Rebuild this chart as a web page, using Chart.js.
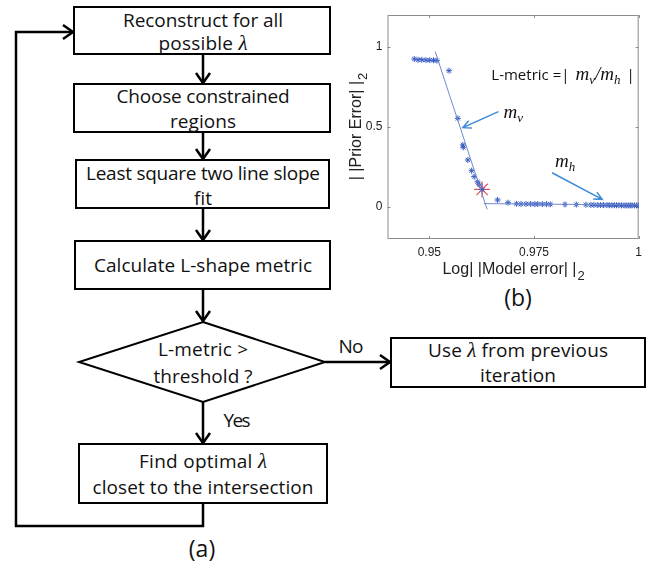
<!DOCTYPE html>
<html>
<head>
<meta charset="utf-8">
<script src="https://cdn.jsdelivr.net/npm/chart.js@4.4.0/dist/chart.umd.min.js"></script>
<style>
html, body { margin: 0; padding: 0; background: #fff; }
#wrap { position: relative; width: 648px; height: 567px; overflow: hidden; }
#flow { position: absolute; left: 0; top: 0; }
#lcurve { position: absolute; left: 343px; top: 0; }
</style>
</head>
<body>
<div id="wrap">
	<svg id="flow" width="648" height="567" xmlns="http://www.w3.org/2000/svg"></svg>
	<canvas id="lcurve" width="305" height="282"></canvas>
</div>
<script>
// ---- panel (b) data ----
const errX = [0.9464, 0.9473, 0.9482, 0.9492, 0.9501, 0.9510, 0.9518,
	0.9547, 0.9568, 0.9580, 0.9581, 0.9592, 0.9601, 0.9607, 0.9615, 0.9620, 0.9626,
	0.9663, 0.9688,
	0.9708, 0.9719, 0.9731, 0.9742, 0.9752, 0.9759, 0.9770, 0.9780, 0.9789,
	0.9824, 0.9851, 0.9874,
	0.9886, 0.9893, 0.9901, 0.9909, 0.9916, 0.9924, 0.9930, 0.9936, 0.9942, 0.9947,
	0.9953, 0.9959, 0.9965, 0.9970, 0.9975, 0.9980, 0.9984, 0.9990, 0.9995, 0.9999];
const errY = [0.925, 0.920, 0.920, 0.918, 0.918, 0.917, 0.915,
	0.852, 0.554, 0.388, 0.373, 0.294, 0.227, 0.190, 0.158, 0.138, 0.110,
	0.044, 0.027,
	0.020, 0.019, 0.019, 0.019, 0.018, 0.018, 0.018, 0.018, 0.017,
	0.016, 0.015, 0.014,
	0.013, 0.013, 0.012, 0.012, 0.012, 0.012, 0.011, 0.011, 0.011, 0.011,
	0.011, 0.010, 0.010, 0.010, 0.010, 0.010, 0.010, 0.010, 0.010, 0.010];

// two fitted lines (m_v steep, m_h flat)
const fitVx = [0.9514, 0.9638];
const fitVy = [0.971, -0.015];
const fitHx = [0.9630, 1.0];
const fitHy = [0.021, 0.013];

// chosen lambda (red star)
const cornerX = [0.9626];
const cornerY = [0.110];

const xTicks = [0.95, 0.975, 1];
const xTickLabels = ['0.95', '0.975', '1'];
const yTicks = [0, 0.5, 1];
const yTickLabels = ['0', '0.5', '1'];

const xTitle = 'Log| |Model error| |';
const yTitle = '| |Prior Error| |';
const normSub = '2';

// annotation anchors in data units
const arrowV = { from: [0.9665, 0.596], to: [0.9580, 0.496] };
const arrowH = { from: [0.9793, 0.214], to: [0.9913, 0.048] };
const labelV = [0.9677, 0.554];
const labelH = [0.9800, 0.252];
const lmetricAt = [0.9648, 0.794];

const toPts = (xs, ys) => xs.map((x, i) => ({ x: x, y: ys[i] }));

// ---- flowchart (a) ----
const NS = 'http://www.w3.org/2000/svg';
const svg = document.getElementById('flow');
const flowFont = '"Open Sans", Lato, sans-serif';

function el(tag, attrs, parent) {
	let e = document.createElementNS(NS, tag);
	for (let k in attrs) e.setAttribute(k, attrs[k]);
	(parent || svg).appendChild(e);
	return e;
}

function box(x, y, w, h) {
	el('rect', { x: x, y: y, width: w, height: h, fill: 'none', stroke: '#000', 'stroke-width': 2 });
}

// line of text, λ written as an italic serif glyph
function line(txt, cx, base, len, size) {
	let t = el('text', {
		x: cx, y: base, 'text-anchor': 'middle', 'font-family': flowFont,
		'font-size': size || 19, fill: '#111'
	});
	if (len) t.setAttribute('textLength', len);
	let parts = txt.split('λ');
	parts.forEach((p, i) => {
		if (p) { let s = el('tspan', {}, t); s.textContent = p; }
		if (i < parts.length - 1) {
			let s = el('tspan', { 'font-family': '"Liberation Serif", serif', 'font-style': 'italic', 'font-size': 21 }, t);
			s.textContent = 'λ';
		}
	});
}

function head(x, y, dir) {
	let L = 10, W = 7, pts;
	if (dir == 'down') pts = [[x - W, y - L], [x, y], [x + W, y - L]];
	else pts = [[x - L, y - W], [x, y], [x - L, y + W]];
	el('polyline', { points: pts.map(p => p.join(',')).join(' '), fill: 'none', stroke: '#000', 'stroke-width': 2.5 });
}

function arrow(x1, y1, x2, y2, dir) {
	el('line', { x1: x1, y1: y1, x2: x2, y2: y2, stroke: '#000', 'stroke-width': 2.5 });
	head(x2, y2, dir);
}

const cx = 203;
box(74, 7, 256, 47);
line('Reconstruct for all', cx, 27, 160);
line('possible λ', cx, 50, 89);
arrow(cx, 54, cx, 83, 'down');

box(74, 84, 256, 48);
line('Choose constrained', cx, 103, 173);
line('regions', cx, 128, 66);
arrow(cx, 132, cx, 159, 'down');

box(76, 160, 253, 48);
line('Least square two line slope', cx, 180, 234);
line('fit', cx, 205);
arrow(cx, 208, cx, 240, 'down');

box(75, 241, 255, 48);
line('Calculate L-shape metric', cx, 272, 218);
arrow(cx, 289, cx, 321, 'down');

el('polygon', { points: '203,322 325,362 203,402 79,362', fill: 'none', stroke: '#000', 'stroke-width': 2 });
line('L-metric >', cx, 356, 90);
line('threshold ?', cx, 383, 99);

arrow(325, 362, 390, 362, 'right');
line('No', 351, 353, 25);
box(391, 338, 254, 49);
line('Use λ from previous', 518, 357, 180);
line('iteration', 518, 382, 76);

arrow(cx, 402, cx, 443, 'down');
line('Yes', 237, 427, 27);
box(79, 444, 248, 59);
line('Find optimal λ', cx, 468, 128);
line('closet to the intersection', cx, 494, 221);

el('polyline', { points: '203,503 203,526 16,526 16,32 73,32', fill: 'none', stroke: '#000', 'stroke-width': 2.5 });
head(73, 32, 'right');

line('(a)', 202, 557, null, 23);
line('(b)', 518, 306, null, 23);

// ---- panel (b) chart ----
const frameBox = {
	id: 'frameBox',
	beforeDatasetsDraw(chart) {
		const { ctx, chartArea: a, scales: { x, y } } = chart;
		ctx.save();
		ctx.strokeStyle = '#8c8c8c';
		ctx.lineWidth = 1;
		ctx.strokeRect(a.left + 0.5, a.top + 0.5, a.right - a.left - 1, a.bottom - a.top - 1);
		ctx.beginPath();
		xTicks.forEach(v => {
			let px = Math.round(x.getPixelForValue(v)) + 0.5;
			ctx.moveTo(px, a.bottom); ctx.lineTo(px, a.bottom - 3);
			ctx.moveTo(px, a.top); ctx.lineTo(px, a.top + 3);
		});
		yTicks.forEach(v => {
			let py = Math.round(y.getPixelForValue(v)) + 0.5;
			ctx.moveTo(a.left, py); ctx.lineTo(a.left + 3, py);
			ctx.moveTo(a.right, py); ctx.lineTo(a.right - 3, py);
		});
		ctx.stroke();
		ctx.restore();
	}
};

// axis titles with a real subscript 2
const axisTitles = {
	id: 'axisTitles',
	afterDraw(chart) {
		const { ctx, chartArea: a } = chart;
		const big = '16px "Liberation Sans", Arial, sans-serif';
		const small = '13px "Liberation Sans", Arial, sans-serif';
		ctx.save();
		ctx.fillStyle = '#222';
		ctx.textBaseline = 'alphabetic';
		ctx.textAlign = 'left';

		ctx.font = big;
		let w1 = ctx.measureText(xTitle).width;
		ctx.font = small;
		let w2 = ctx.measureText(normSub).width;
		let sx = (a.left + a.right) / 2 - (w1 + w2) / 2;
		let by = a.bottom + 35;
		ctx.font = big;
		ctx.fillText(xTitle, sx, by);
		ctx.font = small;
		ctx.fillText(normSub, sx + w1 + 1, by + 6);

		ctx.translate(a.left - 27, (a.top + a.bottom) / 2);
		ctx.rotate(-Math.PI / 2);
		ctx.font = big;
		w1 = ctx.measureText(yTitle).width;
		sx = -(w1 + w2) / 2;
		ctx.fillText(yTitle, sx, 0);
		ctx.font = small;
		ctx.fillText(normSub, sx + w1 + 1, 6);
		ctx.restore();
	}
};

function drawArrow(ctx, p, q) {
	let ang = Math.atan2(q[1] - p[1], q[0] - p[0]);
	ctx.beginPath();
	ctx.moveTo(p[0], p[1]);
	ctx.lineTo(q[0], q[1]);
	ctx.moveTo(q[0] - 9 * Math.cos(ang - 0.45), q[1] - 9 * Math.sin(ang - 0.45));
	ctx.lineTo(q[0], q[1]);
	ctx.lineTo(q[0] - 9 * Math.cos(ang + 0.45), q[1] - 9 * Math.sin(ang + 0.45));
	ctx.stroke();
}

// italic m with a subscript, returns the new x
function mathM(ctx, x, y, sub) {
	ctx.font = 'italic 19px "Liberation Serif", serif';
	ctx.fillText('m', x, y);
	x += ctx.measureText('m').width;
	ctx.font = 'italic 13px "Liberation Serif", serif';
	ctx.fillText(sub, x, y + 4);
	return x + ctx.measureText(sub).width;
}

const notes = {
	id: 'notes',
	afterDatasetsDraw(chart) {
		const { ctx, scales: { x, y } } = chart;
		const P = p => [x.getPixelForValue(p[0]), y.getPixelForValue(p[1])];
		ctx.save();
		ctx.strokeStyle = '#3d8ad6';
		ctx.lineWidth = 1.5;
		drawArrow(ctx, P(arrowV.from), P(arrowV.to));
		drawArrow(ctx, P(arrowH.from), P(arrowH.to));

		ctx.fillStyle = '#111';
		ctx.textBaseline = 'alphabetic';
		ctx.textAlign = 'left';
		let a = P(labelV);
		mathM(ctx, a[0], a[1], 'v');
		a = P(labelH);
		mathM(ctx, a[0], a[1], 'h');

		let [tx, ty] = P(lmetricAt);
		ctx.font = '15px "Open Sans", sans-serif';
		ctx.fillText('L-metric =|', tx, ty);
		tx += ctx.measureText('L-metric =|').width + 6;
		tx = mathM(ctx, tx, ty, 'v');
		ctx.font = 'italic 19px "Liberation Serif", serif';
		ctx.fillText('/', tx, ty);
		tx += ctx.measureText('/').width;
		tx = mathM(ctx, tx, ty, 'h');
		ctx.font = '15px "Open Sans", sans-serif';
		ctx.fillText('|', tx + 6, ty);
		ctx.restore();
	}
};

const tickFont = { family: '"Liberation Sans", Arial, sans-serif', size: 12 };

let ctx = document.getElementById('lcurve').getContext('2d');
let lChart = new Chart(ctx, {
	type: 'scatter',
	data: {
		datasets: [
			{ data: toPts(fitVx, fitVy), showLine: true, pointRadius: 0, borderColor: '#6f8bcc', borderWidth: 1 },
			{ data: toPts(fitHx, fitHy), showLine: true, pointRadius: 0, borderColor: '#6f8bcc', borderWidth: 1 },
			{ data: toPts(errX, errY), pointStyle: 'star', pointRadius: 3, borderColor: '#3a5cc2', borderWidth: 1 },
			{ data: toPts(cornerX, cornerY), pointStyle: 'star', pointRadius: 8, borderColor: '#e5525e', borderWidth: 1.2 }
		]
	},
	options: {
		responsive: false,
		animation: false,
		devicePixelRatio: 1,
		layout: { padding: { top: 15, right: 2, left: 0, bottom: 0 } },
		plugins: { legend: { display: false }, tooltip: { enabled: false } },
		scales: {
			x: {
				type: 'linear', min: 0.94, max: 1,
				afterBuildTicks: s => { s.ticks = xTicks.map(v => ({ value: v })); },
				afterFit: s => { s.height = 43; },
				ticks: { font: tickFont, color: '#222', padding: 6, maxRotation: 0,
					callback: (v) => xTickLabels[xTicks.indexOf(v)] },
				grid: { display: false, drawTicks: false },
				border: { display: false }
			},
			y: {
				type: 'linear', min: -0.2, max: 1.2,
				afterBuildTicks: s => { s.ticks = yTicks.map(v => ({ value: v })); },
				afterFit: s => { s.width = 44.5; },
				ticks: { font: tickFont, color: '#222', padding: 5,
					callback: (v) => yTickLabels[yTicks.indexOf(v)] },
				grid: { display: false, drawTicks: false },
				border: { display: false }
			}
		}
	},
	plugins: [frameBox, axisTitles, notes]
});
</script>
</body>
</html>
